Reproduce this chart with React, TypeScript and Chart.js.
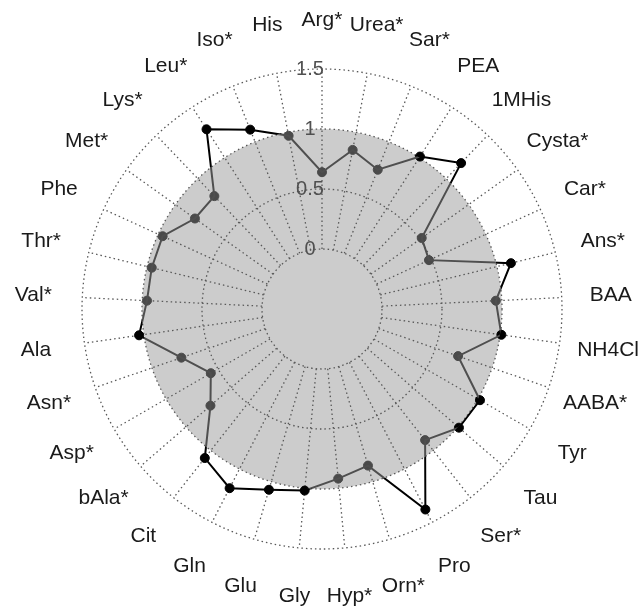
import React, { useEffect, useRef } from "react";
import { Chart, registerables } from "chart.js";

Chart.register(...registerables);

const categories = [
  "Arg*", "Urea*", "Sar*", "PEA", "1MHis", "Cysta*", "Car*", "Ans*", "BAA", "NH4Cl", "AABA*",
  "Tyr", "Tau", "Ser*", "Pro", "Orn*", "Hyp*", "Gly", "Glu", "Gln", "Cit", "bAla*",
  "Asp*", "Asn*", "Ala", "Val*", "Thr*", "Phe", "Met*", "Lys*", "Leu*", "Iso*", "His",
];

const ratios = [
  0.64, 0.85, 0.75, 1.01, 1.18, 0.52, 0.48, 1.12, 0.95, 1.01, 0.70,
  1.02, 1.01, 0.89, 1.38, 0.86, 0.92, 1.02, 1.07, 1.18, 1.08, 0.73,
  0.57, 0.74, 1.04, 0.96, 0.96, 0.96, 0.80, 0.80, 1.28, 1.11, 0.97,
];

const tickValues = [0, 0.5, 1, 1.5];
const scaleMin = -0.5;
const scaleMax = 1.5;
const referenceLevel = 1;

const FONT = "'Liberation Sans', Arial, Helvetica, sans-serif";

const decorPlugin = {
  id: "decor",
  beforeDatasetsDraw(chart: any) {
    const s = chart.scales.r;
    const ctx = chart.ctx as CanvasRenderingContext2D;
    const cx = s.xCenter;
    const cy = s.yCenter;
    const rRef = s.getDistanceFromCenterForValue(referenceLevel);
    ctx.save();
    ctx.fillStyle = "#cccccc";
    ctx.beginPath();
    ctx.arc(cx, cy, rRef, 0, Math.PI * 2);
    ctx.fill();

    ctx.strokeStyle = "#585858";
    ctx.lineWidth = 1.3;
    ctx.setLineDash([1.5, 3]);
    for (const v of tickValues) {
      const r = s.getDistanceFromCenterForValue(v);
      ctx.beginPath();
      ctx.arc(cx, cy, r, 0, Math.PI * 2);
      ctx.stroke();
    }
    const rIn = s.getDistanceFromCenterForValue(tickValues[0]);
    const rOut = s.getDistanceFromCenterForValue(tickValues[tickValues.length - 1]);
    categories.forEach((_, i) => {
      const a = s.getPointPosition(i, rIn);
      const b = s.getPointPosition(i, rOut);
      ctx.beginPath();
      ctx.moveTo(a.x, a.y);
      ctx.lineTo(b.x, b.y);
      ctx.stroke();
    });
    ctx.setLineDash([]);

    ctx.fillStyle = "#505050";
    ctx.font = `20px ${FONT}`;
    ctx.textAlign = "center";
    ctx.textBaseline = "middle";
    for (const v of tickValues) {
      const r = s.getDistanceFromCenterForValue(v);
      ctx.fillText(String(v), cx - 12, cy - r);
    }
    ctx.restore();
  },
  beforeDatasetDraw(chart: any, args: any) {
    const s = chart.scales.r;
    const ctx = chart.ctx as CanvasRenderingContext2D;
    const rRef = s.getDistanceFromCenterForValue(referenceLevel);
    ctx.save();
    if (args.index === 0) {
      ctx.beginPath();
      ctx.arc(s.xCenter, s.yCenter, rRef, 0, Math.PI * 2);
      ctx.clip();
    } else if (args.index === 1) {
      ctx.beginPath();
      ctx.rect(0, 0, chart.width, chart.height);
      ctx.arc(s.xCenter, s.yCenter, rRef, 0, Math.PI * 2);
      ctx.clip("evenodd");
    }
  },
  afterDatasetDraw(chart: any) {
    chart.ctx.restore();
  },
  afterDraw(chart: any) {
    const s = chart.scales.r;
    const ctx = chart.ctx as CanvasRenderingContext2D;
    const dist = (s.drawingArea * 289) / 240;
    ctx.save();
    ctx.fillStyle = "#1a1a1a";
    ctx.font = `21px ${FONT}`;
    ctx.textAlign = "center";
    ctx.textBaseline = "middle";
    categories.forEach((label, i) => {
      const p = s.getPointPosition(i, dist);
      ctx.fillText(label, p.x, p.y);
    });
    ctx.restore();
  },
};

export default function App() {
  const canvasRef = useRef<HTMLCanvasElement | null>(null);

  useEffect(() => {
    const canvas = canvasRef.current;
    if (!canvas) return;
    const pointColors = ratios.map((v) => (v > referenceLevel ? "#000000" : "#4a4a4a"));
    const chart = new Chart(canvas, {
      type: "radar",
      data: {
        labels: categories,
        datasets: [
          {
            data: ratios,
            borderColor: "#4f4f4f",
            borderWidth: 2,
            pointRadius: 0,
            fill: false,
            clip: false as any,
          },
          {
            data: ratios,
            borderColor: "#000000",
            borderWidth: 2,
            pointRadius: 0,
            fill: false,
            clip: false as any,
          },
          {
            data: ratios,
            showLine: false,
            pointRadius: 4.5,
            pointBorderWidth: 1,
            pointBackgroundColor: pointColors,
            pointBorderColor: pointColors,
            fill: false,
            clip: false as any,
          } as any,
        ],
      },
      options: {
        responsive: false,
        animation: false,
        devicePixelRatio: 1,
        layout: { padding: { left: 82, right: 81, top: 69, bottom: 57 } },
        elements: { line: { tension: 0 } },
        plugins: { legend: { display: false }, tooltip: { enabled: false } },
        events: [],
        scales: {
          r: {
            min: scaleMin,
            max: scaleMax,
            ticks: { display: false, stepSize: 0.5 },
            grid: { display: false },
            angleLines: { display: false },
            pointLabels: { display: false },
          },
        },
      },
      plugins: [decorPlugin],
    });
    return () => chart.destroy();
  }, []);

  return (
    <div style={{ position: "fixed", left: 0, top: 0, width: 643, height: 606, background: "#ffffff" }}>
      <canvas ref={canvasRef} width={643} height={606} />
    </div>
  );
}
